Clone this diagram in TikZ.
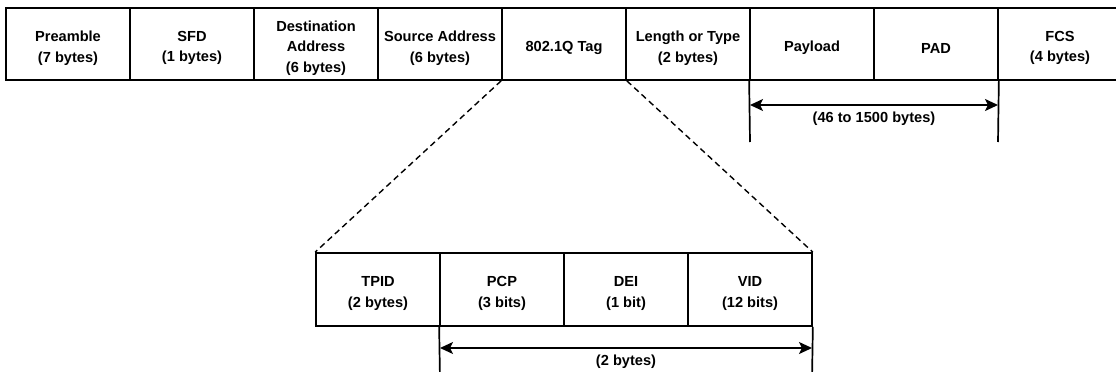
\documentclass[tikz,border=0pt]{standalone}
\usepackage{fontspec}
\setmainfont{Liberation Sans}
\usetikzlibrary{arrows.meta}
\begin{document}
\begin{tikzpicture}[x=1pt,y=-1pt,
  field/.style={draw, line width=1.7pt, minimum width=124pt, minimum height=72pt, inner sep=0pt},
  txt/.style={inner sep=0pt, align=center, font=\fontsize{14.6}{20.5}\selectfont\bfseries},
  lbl/.style={inner sep=0pt, font=\fontsize{14.6}{20.5}\selectfont\bfseries},
  guide/.style={line width=1.7pt},
  span/.style={line width=1.7pt, {Stealth[length=13pt,width=12pt,inset=3pt]}-{Stealth[length=13pt,width=12pt,inset=3pt]}},
  zoomline/.style={line width=1.4pt, dash pattern=on 6pt off 4pt}]
\useasboundingbox (0,0) rectangle (1116,372);
\clip (0,0) rectangle (1116,372);
\fill[white] (0,0) rectangle (1116,372);

% Ethernet frame
\node[field] (pre) at (68,44)   {};
\node[field] (sfd) at (192,44)  {};
\node[field] (dst) at (316,44)  {};
\node[field] (src) at (440,44)  {};
\node[field] (tag) at (564,44)  {};
\node[field] (len) at (688,44)  {};
\node[field] (pay) at (812,44)  {};
\node[field] (pad) at (936,44)  {};
\node[field] (fcs) at (1060,44) {};
\node[txt] (preT) at ([yshift=-4pt]pre.center) {Preamble\\(7 bytes)};
\node[txt] (sfdT) at ([yshift=-4pt]sfd.center) {SFD\\(1 bytes)};
\node[txt] (dstT) at ([yshift=-4pt]dst.center) {Destination\\Address\\(6 bytes)};
\node[txt] (srcT) at ([yshift=-4pt]src.center) {Source Address\\(6 bytes)};
\node[txt] (tagT) at ([yshift=-4pt]tag.center) {802.1Q Tag};
\node[txt] (lenT) at ([yshift=-4pt]len.center) {Length or Type\\(2 bytes)};
\node[txt] (payT) at ([yshift=-4pt]pay.center) {Payload};
\node[txt] (padT) at ([yshift=-4pt]pad.center) {PAD};
\node[txt] (fcsT) at ([yshift=-4pt]fcs.center) {FCS\\(4 bytes)};

% payload size span
\coordinate (payend) at (750,142);
\coordinate (padend) at (998,142);
\coordinate (pa) at (750,105);
\coordinate (pb) at (998,105);
\draw[guide] (pay.south west) -- (payend);
\draw[guide] (pad.south east) -- (padend);
\draw[span] (pa) -- (pb);
\node[lbl] (paylen) at (874,119) {(46 to 1500 bytes)};

% 802.1Q tag breakdown
\node[field, minimum height=73pt] (tpid) at (378,289.5) {};
\node[field, minimum height=73pt] (pcp)  at (502,289.5) {};
\node[field, minimum height=73pt] (dei)  at (626,289.5) {};
\node[field, minimum height=73pt] (vid)  at (750,289.5) {};
\node[txt] (tpidT) at ([yshift=-4pt]tpid.center) {TPID\\(2 bytes)};
\node[txt] (pcpT)  at ([yshift=-4pt]pcp.center)  {PCP\\(3 bits)};
\node[txt] (deiT)  at ([yshift=-4pt]dei.center)  {DEI\\(1 bit)};
\node[txt] (vidT)  at ([yshift=-4pt]vid.center)  {VID\\(12 bits)};

\draw[zoomline] (tag.south west) -- (tpid.north west);
\draw[zoomline] (tag.south east) -- (vid.north east);

% TCI size span
\coordinate (tcistart) at (440,380);
\coordinate (tciend) at (812,380);
\coordinate (ta) at (440,348);
\coordinate (tb) at (812,348);
\draw[guide] (pcp.south west) -- (tcistart);
\draw[guide] (vid.south east) -- (tciend);
\draw[span] (ta) -- (tb);
\node[lbl] (tcilen) at (626,362) {(2 bytes)};
\end{tikzpicture}
\end{document}
